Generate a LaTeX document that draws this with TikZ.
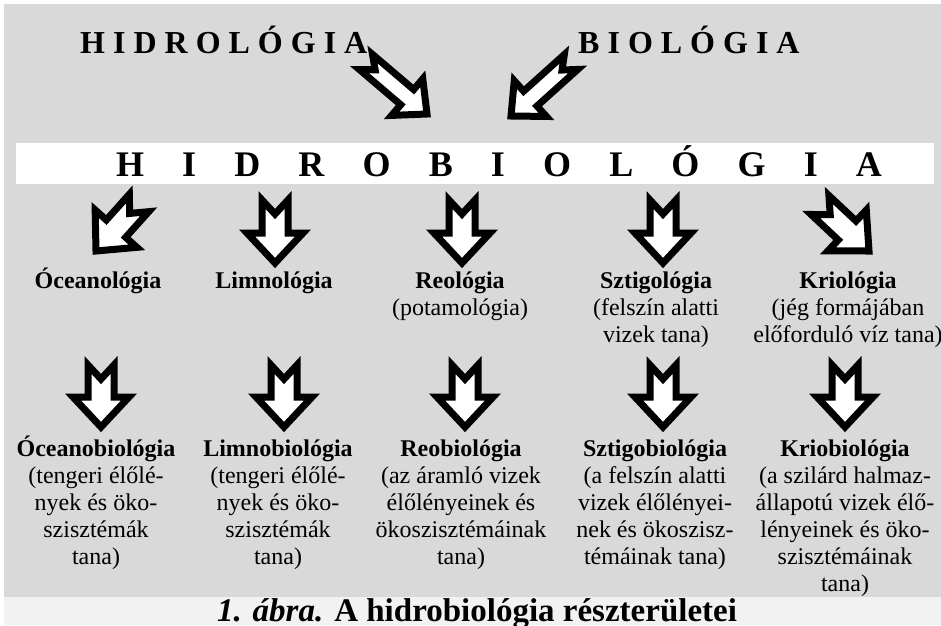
\documentclass[tikz,border=0pt]{standalone}
\usepackage{fontspec}
\setmainfont{Liberation Serif}
\newfontfamily\spacedtop[LetterSpace=25]{Liberation Serif}
\newfontfamily\spacedbar[LetterSpace=106]{Liberation Serif}
\usetikzlibrary{calc}
\definecolor{panel}{HTML}{D9D9D9}
\definecolor{capband}{HTML}{F2F2F2}
% notched block arrow sizes
\newcommand\arrsw{13pt}
\newcommand\arrhw{28pt}
\newcommand\arrhl{30pt}
\newcommand\arrnd{14pt}
% bold first line of a label, with a fixed height
\newcommand\lblhead{\rule{0pt}{24pt}\bfseries}

\begin{document}
\begin{tikzpicture}[x=1pt,y=-1pt,
  lbl/.style={align=center,inner sep=0pt,anchor=north,font=\fontsize{24}{27}\selectfont},
  toptitle/.style={anchor=base west,inner sep=0pt,font=\spacedtop\bfseries\fontsize{32}{32}\selectfont},
  blk/.style={draw=black,fill=white,line width=7pt,line join=miter,miter limit=20,
    to path={($(\tikztostart)!\arrsw!90:(\tikztotarget)$)
      -- ($(\tikztostart)!\arrnd!(\tikztotarget)$)
      -- ($(\tikztostart)!\arrsw!-90:(\tikztotarget)$)
      -- ($(\tikztotarget)!\arrhl!(\tikztostart)!\arrsw!90:(\tikztostart)$)
      -- ($(\tikztotarget)!\arrhl!(\tikztostart)!\arrhw!90:(\tikztostart)$)
      -- (\tikztotarget)
      -- ($(\tikztotarget)!\arrhl!(\tikztostart)!\arrhw!-90:(\tikztostart)$)
      -- ($(\tikztotarget)!\arrhl!(\tikztostart)!\arrsw!-90:(\tikztostart)$)
      -- cycle}},
  slim/.code={\def\arrsw{10pt}\def\arrhw{24pt}\def\arrhl{26pt}\def\arrnd{12pt}}
]
\useasboundingbox (0,0) rectangle (941,625);
\fill[white] (0,0) rectangle (941,625);
\fill[panel] (4,4) rectangle (941,597);
\fill[capband] (4,597) rectangle (941,625);

% titles
\node[toptitle] (hidro) at (80,53) {HIDROLÓGIA};
\node[toptitle] (bio) at (578,53) {BIOLÓGIA};
\node[fill=white,minimum width=918pt,minimum height=41pt,inner sep=0pt] (bar) at (475,163.5) {};
\node[inner sep=0pt,anchor=base,font=\spacedbar\bfseries\fontsize{36}{36}\selectfont]
  (hbio) at (499,176) {HIDROBIOLÓGIA};

% first row
\node[lbl] (ocean) at (98,264) {{\lblhead Óceanológia}};
\node[lbl] (limno) at (274,264) {{\lblhead Limnológia}};
\node[lbl] (reo) at (460,264) {{\lblhead Reológia}\\(potamológia)};
\node[lbl] (sztig) at (656,264) {{\lblhead Sztigológia}\\(felszín alatti\\vizek tana)};
\node[lbl] (krio) at (848,264) {{\lblhead Kriológia}\\(jég formájában\\előforduló víz tana)};

% second row
\node[lbl] (oceanbio) at (96,432) {{\lblhead Óceanobiológia}\\(tengeri élőlé-\\nyek és öko-\\szisztémák\\tana)};
\node[lbl] (limnobio) at (278,432) {{\lblhead Limnobiológia}\\(tengeri élőlé-\\nyek és öko-\\szisztémák\\tana)};
\node[lbl] (reobio) at (461,432) {{\lblhead Reobiológia}\\(az áramló vizek\\élőlényeinek és\\ökoszisztémáinak\\tana)};
\node[lbl] (sztigbio) at (655,432) {{\lblhead Sztigobiológia}\\(a felszín alatti\\vizek élőlényei-\\nek és ökoszisz-\\témáinak tana)};
\node[lbl] (kriobio) at (845,432) {{\lblhead Kriobiológia}\\(a szilárd halmaz-\\állapotú vizek élő-\\lényeinek és öko-\\szisztémáinak\\tana)};

% caption
\node[anchor=base,inner sep=0pt,font=\bfseries\fontsize{33}{33}\selectfont] (cap) at (477,621)
  {\textit{1. ábra.} A hidrobiológia részterületei};

% arrows into the bar
\coordinate (hidro-s) at (366,62);
\coordinate (hidro-t) at (427,114);
\coordinate (bio-s) at (571,62);
\coordinate (bio-t) at (511,116);
\draw[slim,blk] (hidro-s) to (hidro-t);
\draw[slim,blk] (bio-s) to (bio-t);

% arrows out of the bar
\coordinate (ocean-s) at (139,203);
\coordinate (ocean-t) at (96,251);
\coordinate (krio-s) at (820,205);
\coordinate (krio-t) at (869,251);
\draw[blk] (ocean-s) to (ocean-t);
\draw[blk] (krio-s) to (krio-t);
\foreach \n/\x in {limno/275,reo/462,sztig/663}{
  \coordinate (\n-s) at (\x,200);
  \coordinate (\n-t) at (\x,263);
  \draw[blk] (\n-s) to (\n-t);
}

% arrows to the second row
\foreach \n/\x in {oceanbio/101,limnobio/284,reobio/465,sztigbio/663,kriobio/845}{
  \coordinate (\n-s) at (\x,365);
  \coordinate (\n-t) at (\x,427);
  \draw[blk] (\n-s) to (\n-t);
}
\end{tikzpicture}
\end{document}
